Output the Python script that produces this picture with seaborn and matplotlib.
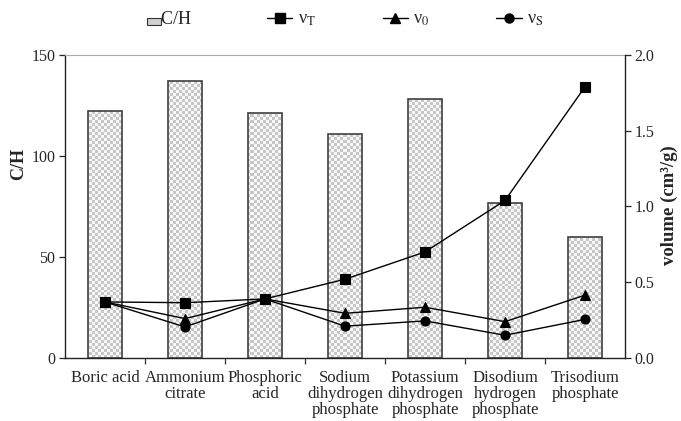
import numpy as np
import pandas as pd
import matplotlib
matplotlib.use("Agg")
import matplotlib.pyplot as plt
import seaborn as sns
from matplotlib.patches import Rectangle, Patch
from matplotlib.lines import Line2D
from matplotlib.legend_handler import HandlerPatch
from matplotlib.ticker import FixedLocator, FormatStrFormatter

# ---------------- data ----------------
categories = ["Boric acid", "Ammonium citrate", "Phosphoric acid",
              "Sodium dihydrogen phosphate", "Potassium dihydrogen phosphate",
              "Disodium hydrogen phosphate", "Trisodium phosphate"]
tick_labels = ["Boric acid", "Ammonium\ncitrate", "Phosphoric\nacid",
               "Sodium\ndihydrogen\nphosphate", "Potassium\ndihydrogen\nphosphate",
               "Disodium\nhydrogen\nphosphate", "Trisodium\nphosphate"]
ch_ratio = [122.5, 137.0, 121.5, 111.0, 128.0, 76.5, 60.0]
v_total = [0.37, 0.365, 0.39, 0.52, 0.70, 1.04, 1.79]
v_zero = [0.37, 0.26, 0.39, 0.295, 0.335, 0.24, 0.415]
v_s = [0.37, 0.205, 0.39, 0.21, 0.245, 0.15, 0.255]
left_ticks = [0, 50, 100, 150]
right_ticks = [0.0, 0.5, 1.0, 1.5, 2.0]

# ---------------- style ----------------
sns.set_style("ticks")
plt.rcParams["font.family"] = ["Liberation Serif", "DejaVu Serif"]
plt.rcParams["mathtext.fontset"] = "stix"

W, H = 681, 421
fig = plt.figure(figsize=(W / 100, H / 100), dpi=100)
ax = fig.add_axes([65 / W, 1 - 358 / H, 560 / W, 303 / H])
ax2 = ax.twinx()

df = pd.DataFrame({"cat": categories, "ch": ch_ratio})
sns.barplot(data=df, x="cat", y="ch", ax=ax, width=0.42, color="white",
            order=categories, errorbar=None)
bars = list(ax.patches)
for b in bars:
    b.set_facecolor("none")
    b.set_edgecolor("#404040")
    b.set_linewidth(1.2)
    b.set_zorder(2)

# checker texture clipped to each bar
cell = 3
nx, ny = 560 // cell + 1, 303 // cell + 1
yy, xx = np.mgrid[0:ny, 0:nx]
tex = np.where((xx + yy) % 2 == 0, 0.78, 0.97)
for b in bars:
    im = ax.imshow(tex, cmap="gray", vmin=0, vmax=1, extent=[0, 1, 0, 1],
                   transform=ax.transAxes, aspect="auto",
                   interpolation="nearest", zorder=1.5)
    im.set_clip_path(b)

# lines on right axis
for vals, mk, ms in [(v_s, "o", 6.5), (v_zero, "^", 7), (v_total, "s", 6.5)]:
    sns.pointplot(x=categories, y=vals, ax=ax2, order=categories, color="black",
                  markers=mk, linestyles="-", markersize=ms, linewidth=1.0,
                  markeredgewidth=0.8, errorbar=None)

# ---------------- axes ----------------
ax.set_xlim(-0.5, 6.5)
ax.set_ylim(0, 150)
ax2.set_ylim(0, 2.0)

ax.xaxis.set_major_locator(FixedLocator(range(len(categories))))
ax.set_xticklabels(tick_labels, fontsize=12, linespacing=0.98)
ax.xaxis.set_minor_locator(FixedLocator([i + 0.5 for i in range(len(categories) - 1)]))
ax.tick_params(axis="x", which="major", length=0, pad=9)
ax.tick_params(axis="x", which="minor", length=4.5, width=0.9, direction="out",
               color="#333333")
ax.set_xlabel("")
ax2.set_xlabel("")

ax.set_yticks(left_ticks)
ax.tick_params(axis="y", labelsize=11.5, length=4, width=0.9, direction="out", pad=3)
ax2.set_yticks(right_ticks)
ax2.yaxis.set_major_formatter(FormatStrFormatter("%.1f"))
ax2.tick_params(axis="y", labelsize=11.5, length=4, width=0.9, direction="out", pad=3)

ax.set_ylabel("C/H", fontsize=13, fontweight="bold")
ax.yaxis.set_label_coords(-0.068, 0.64)
ax2.set_ylabel("volume (cm³/g)", fontsize=13.5, fontweight="bold", rotation=90)
ax2.yaxis.set_label_coords(1.063, 0.505)

for a in (ax, ax2):
    for s in a.spines.values():
        s.set_color("#222222")
        s.set_linewidth(1.0)
ax.spines["top"].set_color("#aaaaaa")
ax.spines["top"].set_linewidth(0.8)
ax2.spines["top"].set_visible(False)
ax.spines["right"].set_visible(False)
ax2.spines["left"].set_visible(False)
ax2.spines["bottom"].set_visible(False)
ax.grid(False)
ax2.grid(False)
if ax2.get_legend() is not None:
    ax2.get_legend().remove()

# ---------------- legend ----------------
def small_patch(legend, orig_handle, xdescent, ydescent, width, height, fontsize):
    return Rectangle((-xdescent + width - 6.5, -ydescent - 0.5), 10, 4.8)

handles = [
    Patch(facecolor="#d0d0d0", edgecolor="#333333", linewidth=0.8),
    Line2D([], [], color="black", marker="s", markersize=6.5, linewidth=1.0),
    Line2D([], [], color="black", marker="^", markersize=7, linewidth=1.0),
    Line2D([], [], color="black", marker="o", markersize=6.5, linewidth=1.0),
]
labels = ["C/H  ", r"ν$_\mathrm{T}$", r"ν$_\mathrm{0}$", r"ν$_\mathrm{S}$"]
fig.legend(handles, labels, loc="center", bbox_to_anchor=(0.495, 0.953),
           ncol=4, frameon=False, fontsize=13, handlelength=1.4,
           handletextpad=0.3, columnspacing=3.7,
           handler_map={Patch: HandlerPatch(patch_func=small_patch)})

fig.savefig("out.png", dpi=100, facecolor="white")
